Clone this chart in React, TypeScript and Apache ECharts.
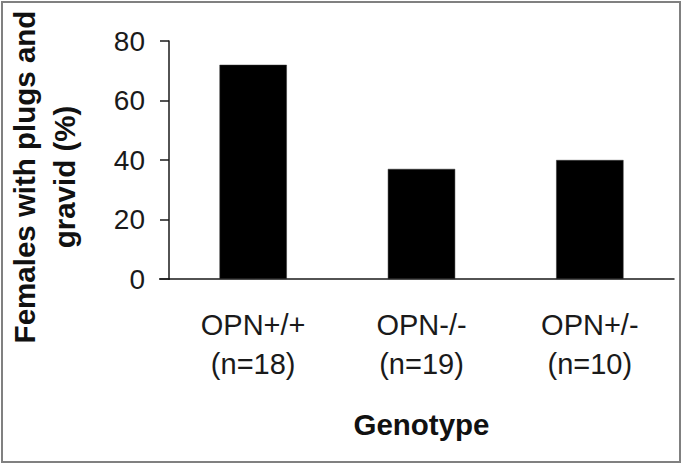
import React, { useEffect, useRef } from "react";
import * as echarts from "echarts";

const categories = ["OPN+/+\n(n=18)", "OPN-/-\n(n=19)", "OPN+/-\n(n=10)"];
const values = [72, 37, 40];
const yTicks = { min: 0, max: 80, interval: 20 };
const xTitle = "Genotype";
const yTitle = "Females with plugs and\ngravid (%)";

const FONT = "'Liberation Sans', Arial, Helvetica, sans-serif";

export default function App() {
  const ref = useRef<HTMLDivElement>(null);
  useEffect(() => {
    if (!ref.current) return;
    const chart = echarts.init(ref.current, undefined, { renderer: "svg" });
    chart.setOption({
      animation: false,
      backgroundColor: "#ffffff",
      grid: { left: 169, right: 11, top: 41, bottom: 187, containLabel: false },
      xAxis: {
        type: "category",
        data: categories,
        axisLine: { show: true, lineStyle: { color: "#1a1a1a", width: 1.5 } },
        axisTick: { show: false },
        axisLabel: {
          color: "#1a1a1a",
          fontFamily: FONT,
          fontSize: 29,
          lineHeight: 39,
          margin: 26,
        },
        name: xTitle,
        nameLocation: "middle",
        nameGap: 130,
        nameTextStyle: {
          color: "#111",
          fontFamily: FONT,
          fontSize: 29.5,
          fontWeight: "bold",
        },
      },
      yAxis: {
        type: "value",
        min: yTicks.min,
        max: yTicks.max,
        interval: yTicks.interval,
        splitLine: { show: false },
        axisLine: { show: true, lineStyle: { color: "#1a1a1a", width: 1.5 } },
        axisTick: { show: true, inside: false, length: 9, lineStyle: { color: "#1a1a1a", width: 1.5 } },
        axisLabel: {
          color: "#1a1a1a",
          fontFamily: FONT,
          fontSize: 28,
          margin: 24,
        },
      },
      graphic: [
        {
          type: "rect",
          shape: { x: 2, y: 2, width: 678, height: 460 },
          style: { fill: "none", stroke: "#808080", lineWidth: 2 },
          silent: true,
        },
        {
          type: "line",
          shape: { x1: 159, y1: 279, x2: 170, y2: 279 },
          style: { stroke: "#1a1a1a", lineWidth: 1.5 },
          silent: true,
        },
        {
          type: "text",
          x: 44,
          y: 177,
          rotation: Math.PI / 2,
          style: {
            text: yTitle,
            fill: "#111",
            font: `bold 29.5px ${FONT}`,
            lineHeight: 40,
            align: "center",
            verticalAlign: "middle",
          },
          silent: true,
        },
      ],
      series: [
        {
          type: "bar",
          data: values,
          barWidth: "40%",
          itemStyle: { color: "#000000", borderColor: "#333", borderWidth: 0.5 },
        },
      ],
    });
    return () => chart.dispose();
  }, []);
  return (
    <div
      ref={ref}
      style={{ position: "fixed", left: 0, top: 0, width: 685, height: 466 }}
    />
  );
}
